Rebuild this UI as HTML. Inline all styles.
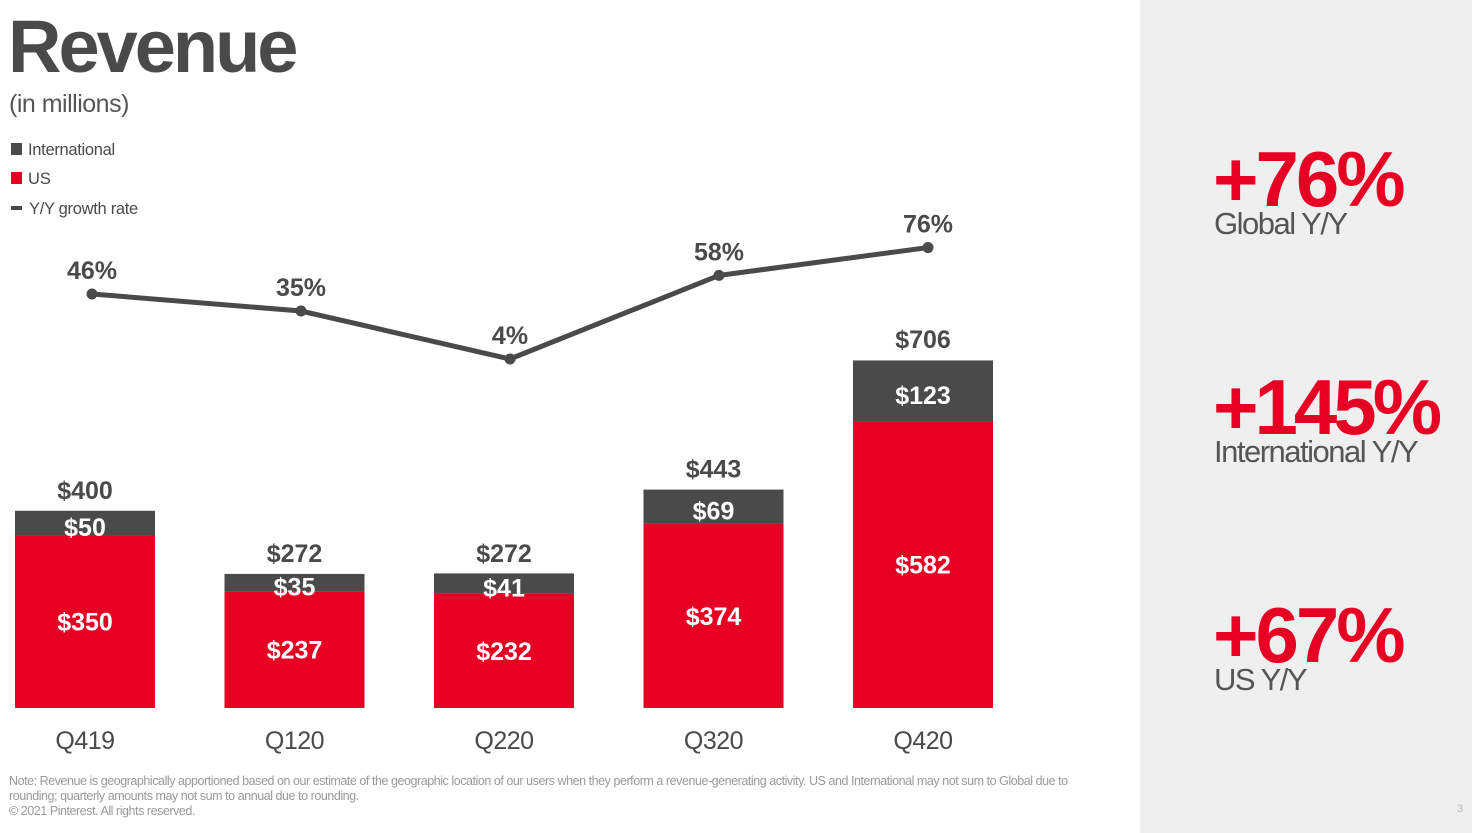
<!DOCTYPE html>
<html><head><meta charset="utf-8"><style>
body{margin:0;background:#fff;}
svg{display:block;font-family:"Liberation Sans",sans-serif;}
</style></head><body>
<svg id="c" width="1472" height="833" viewBox="0 0 1472 833">
<rect x="1140" y="0" width="332" height="833" fill="#efefef"/>
<text x="8" y="72" font-size="74" font-weight="bold" fill="#4a4a4a" letter-spacing="-3">Revenue</text>
<text x="9" y="112" font-size="25" fill="#555" letter-spacing="-0.5">(in millions)</text>
<g>
<rect x="11" y="143" width="11" height="12" fill="#4a4a4a"/>
<text x="28" y="155" font-size="16.5" fill="#4a4a4a" letter-spacing="-0.3">International</text>
<rect x="11" y="172" width="11" height="12" fill="#e60023"/>
<text x="28" y="184" font-size="16.5" fill="#4a4a4a">US</text>
<rect x="11" y="206" width="11" height="4" fill="#4a4a4a"/>
<text x="29" y="214" font-size="16.5" fill="#4a4a4a" letter-spacing="-0.3">Y/Y growth rate</text>
</g>
<g id="chart"></g>
<g>
<text x="1213" y="206" font-size="78" font-weight="bold" fill="#e60023" letter-spacing="-3">+76%</text>
<text x="1214" y="234" font-size="31" fill="#555" letter-spacing="-1.5">Global Y/Y</text>
<text x="1213" y="434" font-size="78" font-weight="bold" fill="#e60023" letter-spacing="-4">+145%</text>
<text x="1214" y="462" font-size="31" fill="#555" letter-spacing="-1.5">International Y/Y</text>
<text x="1213" y="662" font-size="78" font-weight="bold" fill="#e60023" letter-spacing="-3">+67%</text>
<text x="1214" y="690" font-size="31" fill="#555" letter-spacing="-1.5">US Y/Y</text>
</g>
<g font-size="12.5" fill="#999" letter-spacing="-0.45">
<text x="9" y="785">Note: Revenue is geographically apportioned based on our estimate of the geographic location of our users when they perform a revenue-generating activity. US and International may not sum to Global due to</text>
<text x="9" y="800">rounding; quarterly amounts may not sum to annual due to rounding.</text>
<text x="9" y="815">© 2021 Pinterest. All rights reserved.</text>
</g>
<text x="1457" y="812" font-size="11" fill="#bbb">3</text>
</svg>
<script>
const categories=["Q419","Q120","Q220","Q320","Q420"];
const usValues=[350,237,232,374,582];
const intlValues=[50,35,41,69,123];
const totalValues=[400,272,272,443,706];
const growthValues=[46,35,4,58,76];
const NS="http://www.w3.org/2000/svg";
const g=document.getElementById("chart");
const baseY=708, k=0.493, barW=140, x0=15, step=209.5;
const yv=v=>baseY-v*k;
const xc=i=>x0+i*step+barW/2;
const px=i=>92+i*209;
const gy=v=>365.2-1.548*v;
function mk(tag,attrs,txt){const e=document.createElementNS(NS,tag);for(const a in attrs)e.setAttribute(a,attrs[a]);if(txt!=null)e.textContent=txt;g.appendChild(e);return e;}
categories.forEach((c,i)=>{
  const x=xc(i)-barW/2;
  const us=usValues[i], intl=intlValues[i], tot=totalValues[i];
  let e=mk("rect",{x:x,y:yv(us),width:barW,height:us*k,fill:"#e60023"});
  
  
  e=mk("rect",{x:x,y:yv(us+intl),width:barW,height:intl*k,fill:"#4a4a4a"});
  
  
  e=mk("text",{x:xc(i),y:(yv(us)+baseY)/2+9,"font-size":25,"font-weight":"bold",fill:"#fff","text-anchor":"middle"},"$"+us);
  
  
  e=mk("text",{x:xc(i),y:(yv(us)+yv(us+intl))/2+13,"font-size":25,"font-weight":"bold",fill:"#fff","text-anchor":"middle"},"$"+intl);
  
  
  e=mk("text",{x:xc(i),y:yv(tot)-12,"font-size":25,"font-weight":"bold",fill:"#4a4a4a","text-anchor":"middle"},"$"+tot);
  
  
  e=mk("text",{x:xc(i),y:749,"font-size":25,fill:"#4a4a4a","text-anchor":"middle","letter-spacing":"-0.5"},c);
  
  
});
const pts=growthValues.map((v,i)=>px(i)+","+gy(v)).join(" ");
let ln=mk("polyline",{points:pts,fill:"none",stroke:"#4a4a4a","stroke-width":5});


growthValues.forEach((v,i)=>{
  let p=mk("circle",{cx:px(i),cy:gy(v),r:5.5,fill:"#4a4a4a"});
  
  
  let t=mk("text",{x:px(i),y:gy(v)-15,"font-size":25,"font-weight":"bold",fill:"#4a4a4a","text-anchor":"middle"},v+"%");
  
  
});
</script>
</body></html>
